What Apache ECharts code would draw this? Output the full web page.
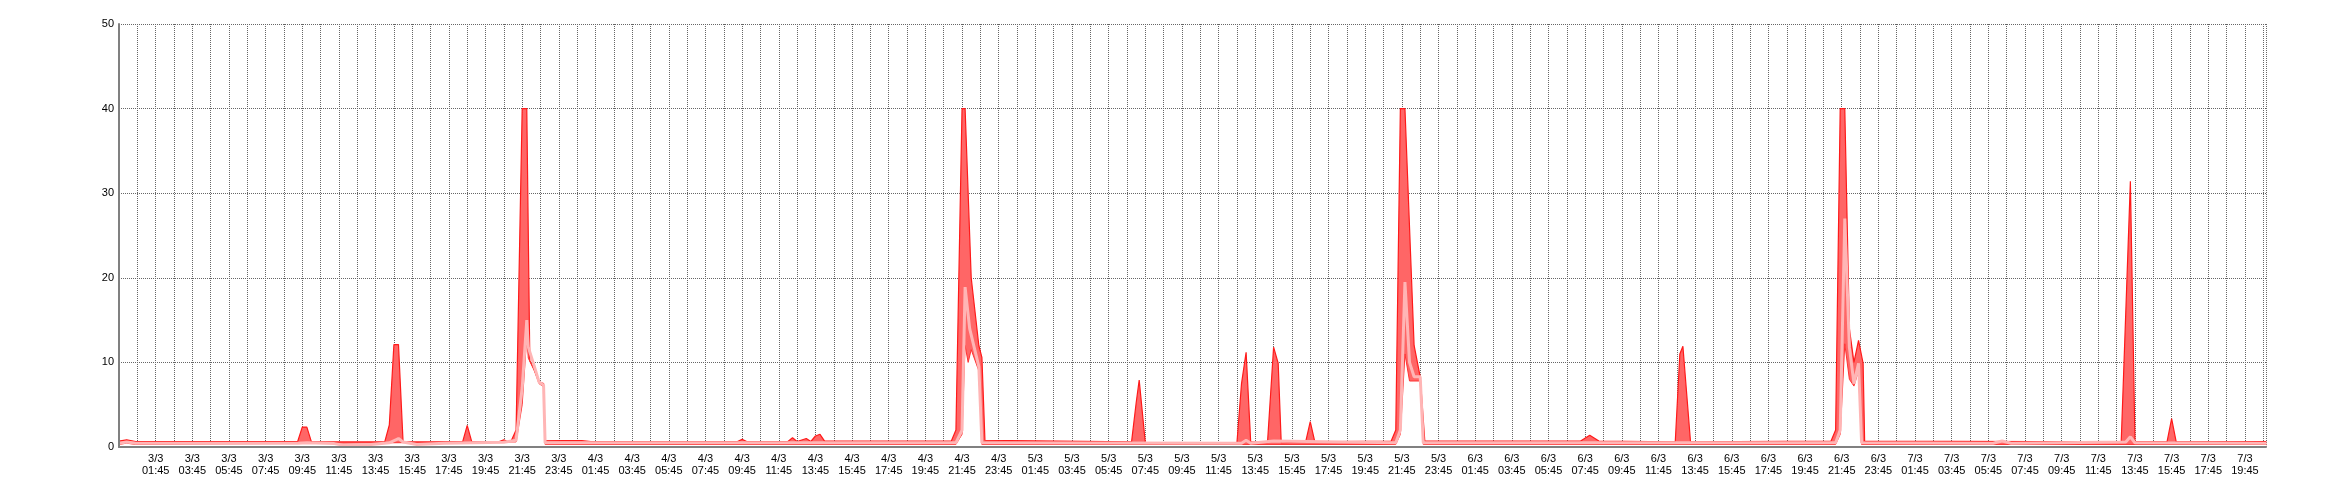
<!DOCTYPE html>
<html><head><meta charset="utf-8">
<script src="https://cdn.jsdelivr.net/npm/echarts@6/dist/echarts.min.js"></script>
<style>html,body{margin:0;padding:0;background:#fff}#c{width:2340px;height:500px}</style>
</head><body><div id="c"></div>
<script>
// Time stamps are 'day hh:mm' in March; x value = hours since 2/3 23:45.
const yTicks = [0, 10, 20, 30, 40, 50];

const maxTimes = ['2 23:45','3 00:10','3 00:40','3 09:30','3 09:45','3 10:00','3 10:15','3 14:15','3 14:30','3 14:45','3 15:00','3 15:15','3 18:30','3 18:45','3 19:00','3 20:30','3 20:45','3 21:00','3 21:10','3 21:25','3 21:45','3 22:00','3 22:10','3 22:20','3 22:40','3 22:55','3 23:00','4 01:00','4 01:30','4 09:30','4 09:45','4 10:00','4 12:15','4 12:30','4 12:45','4 13:15','4 13:30','4 13:45','4 14:00','4 14:15','4 21:10','4 21:25','4 21:45','4 21:55','4 22:15','4 22:40','4 22:50','4 23:00','5 07:00','5 07:15','5 07:25','5 07:45','5 12:45','5 13:00','5 13:15','5 13:30','5 14:25','5 14:45','5 15:00','5 15:10','5 16:30','5 16:45','5 17:00','5 21:10','5 21:25','5 21:40','5 21:55','5 22:25','5 22:45','5 23:00','6 07:30','6 08:00','6 08:30','6 12:40','6 12:55','6 13:05','6 13:30','6 21:10','6 21:25','6 21:40','6 21:55','6 22:10','6 22:25','6 22:40','6 22:55','6 23:00','7 13:00','7 13:15','7 13:30','7 13:45','7 15:30','7 15:45','7 16:00','7 20:55'];
const maxVals  = [0.7,0.85,0.65,0.65,2.35,2.35,0.6,0.6,2.6,12.1,12.1,0.6,0.6,2.55,0.6,0.65,0.85,0.6,0.8,2.0,40,40,10.2,9.5,7.7,7.5,0.8,0.75,0.65,0.65,0.9,0.65,0.65,1.1,0.65,1.0,0.65,1.3,1.5,0.7,0.7,2.0,40,40,20,12,10.6,0.8,0.6,5.2,7.9,0.5,0.5,7.5,11.2,0.6,0.5,11.8,9.9,0.5,0.6,3.0,0.6,0.7,2.0,40,40,12,8.3,0.7,0.7,1.4,0.7,0.6,11,11.9,0.6,0.7,2.0,40,40,14,10,12.6,9.9,0.7,0.6,16,31.4,0.6,0.6,3.35,0.6,0.65];

const avgTimes = ['2 23:45','3 00:10','3 00:40','3 09:30','3 10:00','3 11:30','3 12:00','3 13:30','3 14:30','3 15:00','3 15:15','3 16:00','3 17:30','3 20:45','3 21:25','3 21:45','3 22:00','3 22:05','3 22:25','3 22:40','3 22:55','3 23:00','4 21:25','4 21:45','4 21:55','4 22:10','4 22:40','4 22:50','5 13:00','5 13:15','5 13:30','5 14:45','5 21:25','5 21:40','5 21:55','5 22:10','5 22:25','5 22:45','5 22:55','6 21:25','6 21:40','6 21:55','6 22:10','6 22:25','6 22:40','6 22:50','7 06:00','7 06:30','7 07:00','7 13:15','7 13:30','7 13:45','7 20:55'];
const avgVals  = [0.45,0.6,0.45,0.45,0.5,0.4,0.2,0.3,0.5,1.0,0.6,0.3,0.45,0.55,0.8,7,15,11.8,9.5,7.7,7.3,0.5,0.5,2,18.9,14,9.5,0.5,0.45,0.8,0.45,0.7,0.5,2,19.5,10,8.3,8.3,0.5,0.5,2,27,11.8,7.5,9.9,0.5,0.45,0.7,0.45,0.6,1.2,0.5,0.45];

const minTimes = ['2 23:45','3 00:10','3 00:40','3 21:25','3 21:45','3 22:00','3 22:05','3 22:25','3 22:40','3 22:55','3 23:00','4 21:25','4 21:45','4 21:55','4 22:05','4 22:15','4 22:40','4 22:50','5 21:25','5 21:40','5 21:55','5 22:10','5 22:45','5 22:55','6 21:25','6 21:40','6 21:55','6 22:10','6 22:25','6 22:40','6 22:50','7 20:55'];
const minVals  = [0.3,0.45,0.3,0.6,5,13,10.5,9,7.5,7.1,0.3,0.3,1.5,12,10,11.5,9,0.3,0.3,1.5,11,7.8,7.8,0.3,0.3,1.5,12.2,8,7.2,9,0.3,0.3];

function toHours(s) {
  const parts = s.split(' ');
  const hm = parts[1].split(':').map(Number);
  return (Number(parts[0]) - 3) * 24 + hm[0] + hm[1] / 60 + 0.25;
}
function pairs(ts, vs) { return ts.map((t, i) => [toHours(t), vs[i]]); }
function tickLabel(v) {
  if (Math.abs(v - Math.round(v)) > 1e-6) return '';
  v = Math.round(v);
  if (v < 2 || v % 2 !== 0) return '';
  const mins = v * 60 - 15;
  const day = 3 + Math.floor(mins / 1440);
  const rem = mins - (day - 3) * 1440;
  const H = Math.floor(rem / 60);
  return day + '/3\n' + String(H).padStart(2, '0') + ':45';
}

const font = '"Liberation Sans", Arial, sans-serif';
const chart = echarts.init(document.getElementById('c'), null, {renderer: 'canvas'});
const xMin = 0, xMax = 117.15;
chart.setOption({
  animation: false,
  backgroundColor: '#ffffff',
  grid: {left: 119, right: 74, top: 24, bottom: 53, containLabel: false},
  xAxis: [{
    type: 'value', min: xMin, max: xMax, interval: 1,
    axisLine: {show: false}, axisTick: {show: false},
    splitLine: {show: true, lineStyle: {color: '#666', width: 1, type: 'dotted'}},
    axisLabel: {formatter: tickLabel, fontFamily: font, fontSize: 11, color: '#000', lineHeight: 12, margin: 6, showMinLabel: false, showMaxLabel: false}
  }, {
    type: 'value', min: xMin, max: xMax, position: 'bottom', z: 5,
    axisLine: {show: true, onZero: false, lineStyle: {color: '#808080', width: 2}},
    axisTick: {show: false}, axisLabel: {show: false}, splitLine: {show: false}
  }],
  yAxis: [{
    type: 'value', min: yTicks[0], max: yTicks[yTicks.length - 1], interval: 10,
    axisLine: {show: false}, axisTick: {show: false},
    splitLine: {show: true, lineStyle: {color: '#666', width: 1, type: 'dotted'}},
    axisLabel: {fontFamily: font, fontSize: 11, color: '#000', margin: 5}
  }, {
    type: 'value', min: yTicks[0], max: yTicks[yTicks.length - 1], position: 'left', z: 5,
    axisLine: {show: true, onZero: false, lineStyle: {color: '#808080', width: 2}},
    axisTick: {show: false}, axisLabel: {show: false}, splitLine: {show: false}
  }],
  series: [{
    name: 'max', type: 'line', xAxisIndex: 0, yAxisIndex: 0, showSymbol: false, symbol: 'none',
    data: pairs(maxTimes, maxVals),
    lineStyle: {color: '#ff1a1a', width: 1.2},
    areaStyle: {color: '#ff6666', opacity: 1}
  }, {
    name: 'min', type: 'line', xAxisIndex: 0, yAxisIndex: 0, showSymbol: false, symbol: 'none',
    data: pairs(minTimes, minVals),
    lineStyle: {color: '#ff3333', width: 1},
    areaStyle: {color: '#ffffff', opacity: 1}
  }, {
    name: 'avg', type: 'line', xAxisIndex: 0, yAxisIndex: 0, showSymbol: false, symbol: 'none',
    data: pairs(avgTimes, avgVals),
    lineStyle: {color: '#ffb5b5', width: 3}
  }]
});
</script></body></html>
